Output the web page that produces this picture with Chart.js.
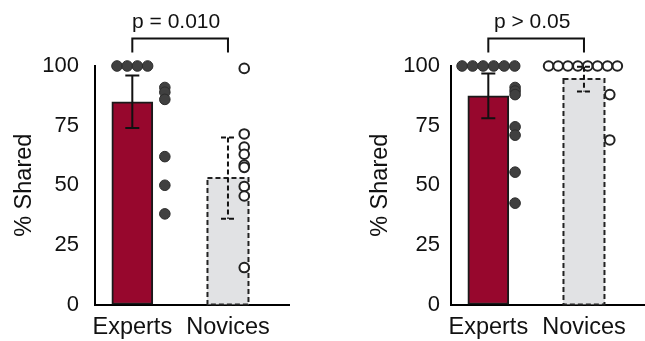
<!DOCTYPE html>
<html>
<head>
<meta charset="utf-8">
<script src="https://cdn.jsdelivr.net/npm/chart.js@4.4.1/dist/chart.umd.min.js"></script>
<style>
    body { margin: 0; background: #fff; }
    .wrap { position: relative; width: 645px; height: 341px; overflow: hidden; }
    .panel { position: absolute; top: 0; width: 296px; height: 341px; }
</style>
</head>
<body>
<div class="wrap">
    <div class="panel" style="left:0"><canvas id="chartLeft"></canvas></div>
    <div class="panel" style="left:356px"><canvas id="chartRight"></canvas></div>
</div>
<script>
const groups = ['Experts', 'Novices'];
const yTicks = [0, 25, 50, 75, 100];

// Left panel
const leftMeans = [85, 53];
const leftErrors = [11, 17];
const leftExperts = [100, 100, 100, 100, 91, 89, 86, 62, 50, 38];
const leftExpertsOffset = [-0.16, -0.053, 0.053, 0.16, 0.34, 0.34, 0.34, 0.34, 0.34, 0.34];
const leftNovices = [99, 71.5, 66, 63, 58.5, 57.5, 49.5, 45.5, 15.5];
const leftNovicesOffset = [0.17, 0.17, 0.17, 0.17, 0.17, 0.17, 0.17, 0.17, 0.17];
const leftP = 'p = 0.010';

// Right panel
const rightMeans = [87.5, 94.5];
const rightErrors = [9.4, 5.2];
const rightExperts = [100, 100, 100, 100, 100, 100, 91, 89.5, 88, 74.5, 71, 55.5, 42.5];
const rightExpertsOffset = [-0.274, -0.164, -0.054, 0.056, 0.166, 0.276, 0.28, 0.28, 0.28, 0.28, 0.28, 0.28, 0.28];
const rightNovices = [100, 100, 100, 100, 100, 100, 100, 100, 88, 69];
const rightNovicesOffset = [-0.37, -0.27, -0.168, -0.064, 0.039, 0.142, 0.246, 0.349, 0.27, 0.27];
const rightP = 'p > 0.05';

const FONT = '"Liberation Sans", Arial, sans-serif';
Chart.defaults.font.family = FONT;
Chart.defaults.color = '#111';

// error bars, dashed bar outline and the p-value bracket
const statsPlugin = {
    id: 'groupStats',
    afterDatasetDraw(chart, args, opts) {
        if (args.meta.type !== 'bar') return;
        const ctx = chart.ctx;
        args.meta.data.forEach((bar, i) => {
            if (!opts.dashed[i]) return;
            const { x, y, base, width } = bar.getProps(['x', 'y', 'base', 'width'], true);
            ctx.save();
            ctx.setLineDash([5, 3]);
            ctx.lineWidth = 2;
            ctx.strokeStyle = '#222';
            ctx.strokeRect(x - width / 2, y, width, base - y);
            ctx.restore();
        });
    },
    afterDatasetsDraw(chart, args, opts) {
        const { ctx, scales: { x, y } } = chart;
        opts.means.forEach((m, i) => {
            const px = x.getPixelForValue(i);
            const top = y.getPixelForValue(m + opts.errors[i]);
            const bottom = y.getPixelForValue(m - opts.errors[i]);
            ctx.save();
            ctx.lineWidth = 2;
            ctx.strokeStyle = '#111';
            ctx.setLineDash(opts.dashed[i] ? [5, 3] : []);
            ctx.beginPath();
            ctx.moveTo(px, top);
            ctx.lineTo(px, bottom);
            ctx.moveTo(px - 7, top);
            ctx.lineTo(px + 7, top);
            ctx.moveTo(px - 7, bottom);
            ctx.lineTo(px + 7, bottom);
            ctx.stroke();
            ctx.restore();
        });
    },
    afterDraw(chart, args, opts) {
        const { ctx, chartArea, scales: { x } } = chart;
        const x0 = x.getPixelForValue(0);
        const x1 = x.getPixelForValue(1);
        const yLine = chartArea.top - 27.5;
        const yTick = chartArea.top - 13.5;
        ctx.save();
        ctx.strokeStyle = '#111';
        ctx.lineWidth = 2;
        ctx.beginPath();
        ctx.moveTo(x0, yTick);
        ctx.lineTo(x0, yLine);
        ctx.lineTo(x1, yLine);
        ctx.lineTo(x1, yTick);
        ctx.stroke();
        ctx.fillStyle = '#111';
        ctx.font = '21px ' + FONT;
        ctx.textAlign = 'center';
        ctx.textBaseline = 'middle';
        ctx.fillText(opts.label, (x0 + x1) / 2 - 4, chartArea.top - 43.5);
        ctx.restore();
    }
};

function makeChart(id, means, errors, experts, expertsOffset, novices, novicesOffset, pLabel, tickPad) {
    const ctx = document.getElementById(id).getContext('2d');
    return new Chart(ctx, {
        type: 'bar',
        data: {
            datasets: [{
                type: 'scatter',
                order: 1,
                clip: false,
                data: experts.map((v, i) => ({ x: 0 + expertsOffset[i], y: v })),
                pointRadius: 5.3,
                backgroundColor: '#404040',
                borderColor: '#2c2c2c',
                borderWidth: 1
            }, {
                type: 'scatter',
                order: 1,
                clip: false,
                data: novices.map((v, i) => ({ x: 1 + novicesOffset[i], y: v })),
                pointRadius: 4.8,
                backgroundColor: '#fff',
                borderColor: '#222',
                borderWidth: 2
            }, {
                type: 'bar',
                order: 2,
                data: means.map((m, i) => ({ x: i, y: m })),
                barThickness: 41,
                backgroundColor: ['#97072d', '#e1e2e4'],
                borderColor: ['#1a1a1a', 'rgba(0,0,0,0)'],
                borderWidth: [2, 0],
                borderSkipped: false
            }]
        },
        options: {
            responsive: true,
            maintainAspectRatio: false,
            animation: false,
            layout: { padding: { top: 66, right: 1, left: 0, bottom: 0 } },
            plugins: {
                legend: { display: false },
                tooltip: { enabled: false },
                groupStats: { means: means, errors: errors, dashed: [false, true], label: pLabel }
            },
            scales: {
                x: {
                    type: 'linear',
                    min: -0.39,
                    max: 1.64,
                    offset: false,
                    grid: { display: false, drawTicks: false },
                    border: { display: true, color: '#000', width: 2 },
                    afterBuildTicks: (scale) => { scale.ticks = groups.map((g, i) => ({ value: i })); },
                    afterFit: (scale) => { scale.height = 36.5; },
                    ticks: {
                        autoSkip: false,
                        maxRotation: 0,
                        padding: 9,
                        color: '#111',
                        font: { size: 23.5 },
                        callback: (v) => groups[v]
                    }
                },
                y: {
                    min: 0,
                    max: 100,
                    grid: { display: false, drawTicks: false },
                    border: { display: true, color: '#000', width: 2 },
                    afterBuildTicks: (scale) => { scale.ticks = yTicks.map(v => ({ value: v })); },
                    afterFit: (scale) => { scale.width = 95; },
                    ticks: {
                        padding: tickPad,
                        color: '#111',
                        font: { size: 22 }
                    },
                    title: {
                        display: true,
                        text: '% Shared',
                        color: '#111',
                        font: { size: 23.5 },
                        padding: { top: 10, bottom: 0 }
                    }
                }
            }
        },
        plugins: [statsPlugin]
    });
}

makeChart('chartLeft', leftMeans, leftErrors, leftExperts, leftExpertsOffset, leftNovices, leftNovicesOffset, leftP, 16);
makeChart('chartRight', rightMeans, rightErrors, rightExperts, rightExpertsOffset, rightNovices, rightNovicesOffset, rightP, 11);
</script>
</body>
</html>
